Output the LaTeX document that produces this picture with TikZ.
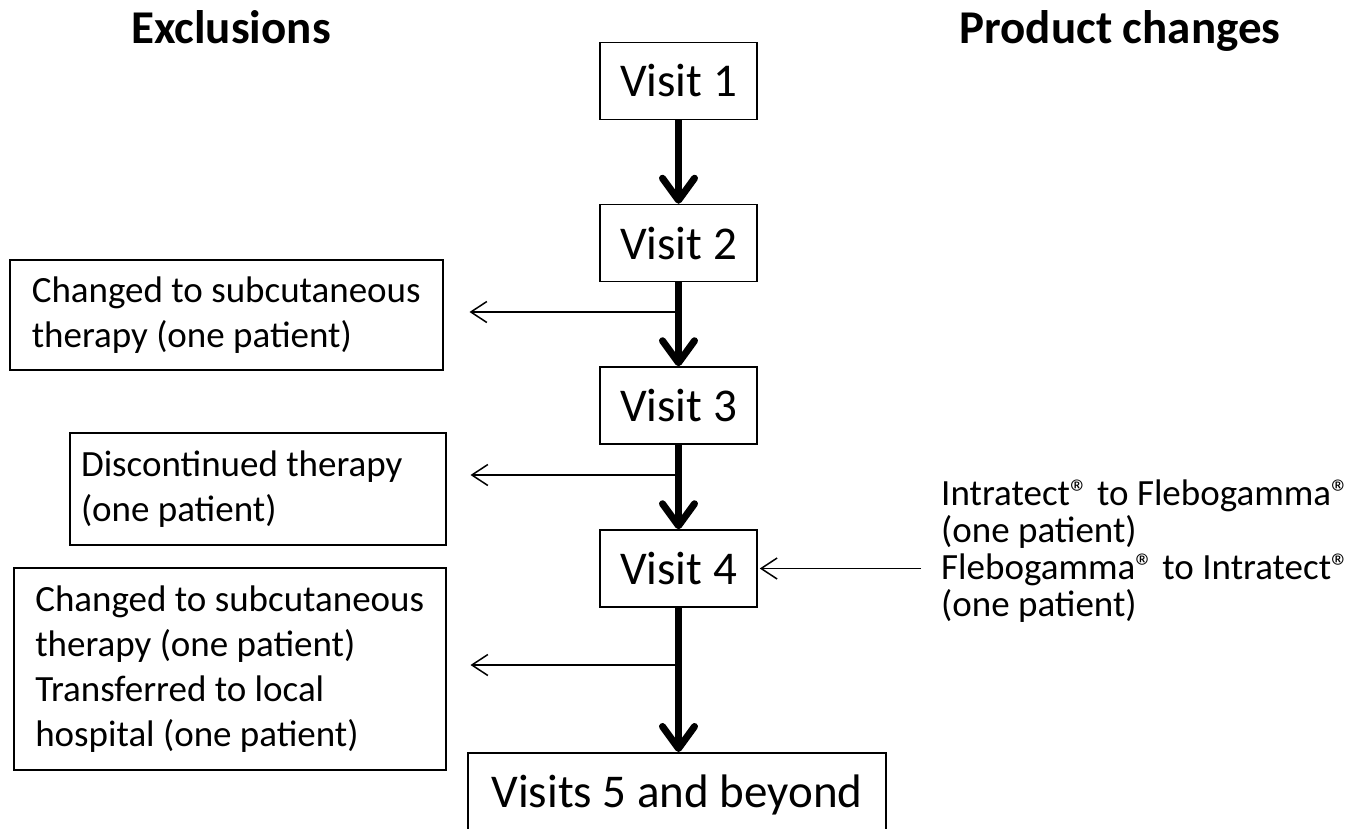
\documentclass[tikz,border=0pt]{standalone}
\usepackage{fontspec}
\setmainfont{Carlito}
\usetikzlibrary{arrows.meta,calc}
\newcommand{\regmark}{\textregistered}
\begin{document}
\begin{tikzpicture}[x=1pt,y=-1pt,
  big/.style={font=\fontsize{47}{57}\selectfont},
  visitbox/.style={draw, line width=1.5pt, big, minimum width=157pt, minimum height=77pt, inner sep=0pt},
  exbox/.style={draw, line width=1.5pt, font=\fontsize{37}{45}\selectfont, anchor=north west, align=left, inner sep=0pt},
  mainarrow/.style={line width=7pt, -{Straight Barb[length=22pt,width=32pt,line cap=round,line join=round]}},
  sidearrow/.style={line width=1.5pt, -{Straight Barb[length=16pt,width=21pt]}},
  header/.style={font=\fontsize{47}{57}\selectfont\bfseries, anchor=base, inner sep=0pt},
  prodtext/.style={font=\fontsize{37}{37}\selectfont, anchor=north west, align=left, inner sep=0pt}
]
\useasboundingbox (0,0) rectangle (1370,828);

% headers
\node[header] (hex) at (231,43) {Exclusions};
\node[header] (hpc) at (1120,43) {Product changes};

% visit boxes
\node[visitbox] (v1) at (678.5,81) {Visit 1};
\node[visitbox] (v2) at (678.5,243) {Visit 2};
\node[visitbox] (v3) at (678.5,405.5) {Visit 3};
\node[visitbox] (v4) at (678.5,568.5) {Visit 4};
\node[visitbox, minimum width=418pt, minimum height=84pt, anchor=north] (v5) at (677,752) {Visits 5 and beyond};

% exclusion boxes
\node[exbox, minimum width=433pt, minimum height=110pt] (ex1) at (9,259)
  {Changed to subcutaneous\\therapy (one patient)};
\node[exbox, minimum width=376pt, minimum height=112pt] (ex2) at (69,432)
  {Discontinued therapy\hspace*{32pt}\\(one patient)};
\node[exbox, minimum width=432pt, minimum height=202pt] (ex3) at (13,567)
  {Changed to subcutaneous\\therapy (one patient)\\Transferred to local\\hospital (one patient)};

% product changes text
\node[prodtext] (pc) at (941,480)
  {Intratect\regmark{} to Flebogamma\regmark\\(one patient)\\Flebogamma\regmark{} to Intratect\regmark\\(one patient)};

% main flow
\draw[mainarrow] (v1) -- (v2);
\draw[mainarrow] (v2) -- (v3);
\draw[mainarrow] (v3) -- (v4);
\draw[mainarrow] (v4.south) -- (v4.south |- v5.north);

% side arrows
\coordinate (c1) at (678.5,312);
\coordinate (c2) at (678.5,475);
\coordinate (c3) at (678.5,665);
\draw[sidearrow, shorten >=26pt] (c1) -- (c1 -| ex1.east);
\draw[sidearrow, shorten >=24pt] (c2) -- (c2 -| ex2.east);
\draw[sidearrow, shorten >=24pt] (c3) -- (c3 -| ex3.east);

\coordinate (r4) at (921,568.5);
\draw[sidearrow, shorten >=2pt] (r4) -- (v4.east);
\end{tikzpicture}
\end{document}
